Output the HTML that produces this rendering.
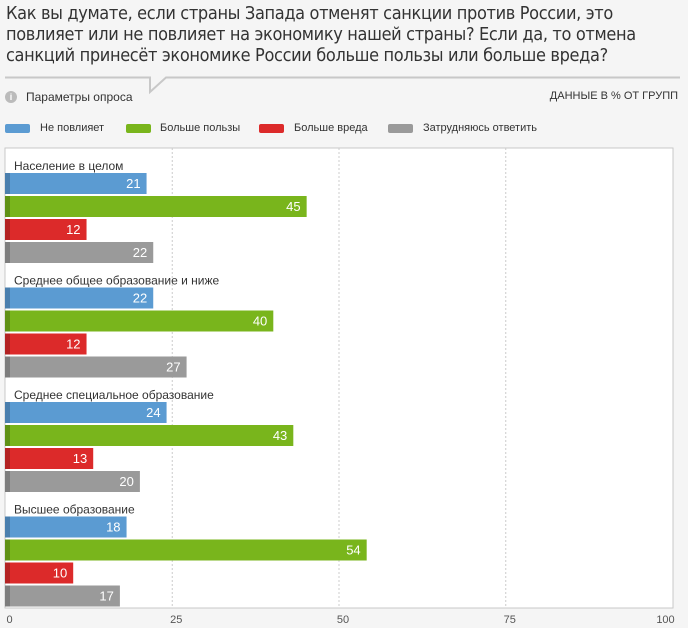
<!DOCTYPE html>
<html><head><meta charset="utf-8"><style>
body{margin:0;background:#f5f5f5;font-family:"Liberation Sans",sans-serif;}
#wrap{position:relative;width:688px;height:628px;overflow:hidden;background:#f5f5f5}
.title{position:absolute;left:6px;top:3px;width:680px;font-size:18px;line-height:21px;color:#333;font-family:"DejaVu Sans Condensed","Liberation Sans",sans-serif;letter-spacing:-0.35px}
.sm{position:absolute;font-size:12px;color:#333}
.leg{position:absolute;top:124px;width:25px;height:9px;border-radius:2px}
.ltxt{position:absolute;top:122px;font-size:11px;color:#333}
</style></head><body><div id="wrap">
<div class="title">Как вы думате, если страны Запада отменят санкции против России, это повлияет или не повлияет на экономику нашей страны? Если да, то отмена санкций принесёт экономике России больше пользы или больше вреда?</div>
<svg width="688" height="110" style="position:absolute;left:0;top:0"><polyline points="5,77.5 150,77.5 150,92 166,77.5 680,77.5" fill="none" stroke="#c8c8c8" stroke-width="2"/></svg>
<div style="position:absolute;left:5px;top:91px;width:12px;height:12px;border-radius:6px;background:#bbb;color:#fff;font-size:9px;text-align:center;line-height:12px;font-weight:bold">i</div>
<div class="sm" style="left:26px;top:90px">Параметры опроса</div>
<div class="sm" style="right:10px;top:90px;font-size:11px">ДАННЫЕ В % ОТ ГРУПП</div>
<div class="leg" style="left:5px;background:#5b9bd2"></div><div class="ltxt" style="left:40px">Не повлияет</div>
<div class="leg" style="left:126px;background:#79b51c"></div><div class="ltxt" style="left:160px">Больше пользы</div>
<div class="leg" style="left:259px;background:#dc2a2a"></div><div class="ltxt" style="left:294px">Больше вреда</div>
<div class="leg" style="left:388px;background:#9a9a9a"></div><div class="ltxt" style="left:423px">Затрудняюсь ответить</div>
<svg id="plot" width="688" height="628" style="position:absolute;left:0;top:0"></svg>
</div>
<script>
const categories=["Население в целом","Среднее общее образование и ниже","Среднее специальное образование","Высшее образование"];
const noEffect=[21,22,24,18];
const moreBenefit=[45,40,43,54];
const moreHarm=[12,12,13,10];
const hardToSay=[22,27,20,17];
const ticks=[0,25,50,75,100];
const series=[noEffect,moreBenefit,moreHarm,hardToSay];
const colors=["#5b9bd2","#79b51c","#dc2a2a","#9a9a9a"];
const darks=["#4a7fae","#5f9115","#b32222","#7d7d7d"];
const snames=["no-effect","more-benefit","more-harm","hard-to-say"];
const NS="http://www.w3.org/2000/svg";
const svg=document.getElementById('plot');
const x=v=>6.5+v*6.67;
const T=148,B=608;
function mk(t,a){const e=document.createElementNS(NS,t);for(const k in a)e.setAttribute(k,a[k]);svg.appendChild(e);return e;}
let bg=mk('rect',{x:5,y:T,width:668,height:B-T,fill:'#fff',stroke:'#c8c8c8'});


ticks.forEach((t,i)=>{
 if(i>0&&i<ticks.length-1){let g=mk('line',{x1:x(t)-1,x2:x(t)-1,y1:T,y2:B,stroke:'#ccc','stroke-dasharray':'2,2'});
 
 }
 let l=mk('text',{x:i==ticks.length-1?x(t)-8:x(t)+3,y:623,'font-size':11,fill:'#555','text-anchor':'middle','font-family':'Liberation Sans'});
 l.textContent=t;
 
 
});
categories.forEach((c,gi)=>{
 const gy=157+gi*114.5;
 let lt=mk('text',{x:14,y:gy+13,'font-size':12,fill:'#333','font-family':'Liberation Sans'});
 lt.textContent=c;
 
 
 series.forEach((s,si)=>{
  const y=gy+16+si*23,v=s[gi];
  let r=mk('rect',{x:5,y:y,width:x(v)-5,height:21,fill:colors[si]});
  
  
  let d=mk('rect',{x:5,y:y,width:5,height:21,fill:darks[si]});
  
  
  let vt=mk('text',{x:x(v)-6,y:y+15,'font-size':13,fill:'#fff','text-anchor':'end','font-family':'Liberation Sans'});
  vt.textContent=v;
  
  
 });
});
</script></body></html>
